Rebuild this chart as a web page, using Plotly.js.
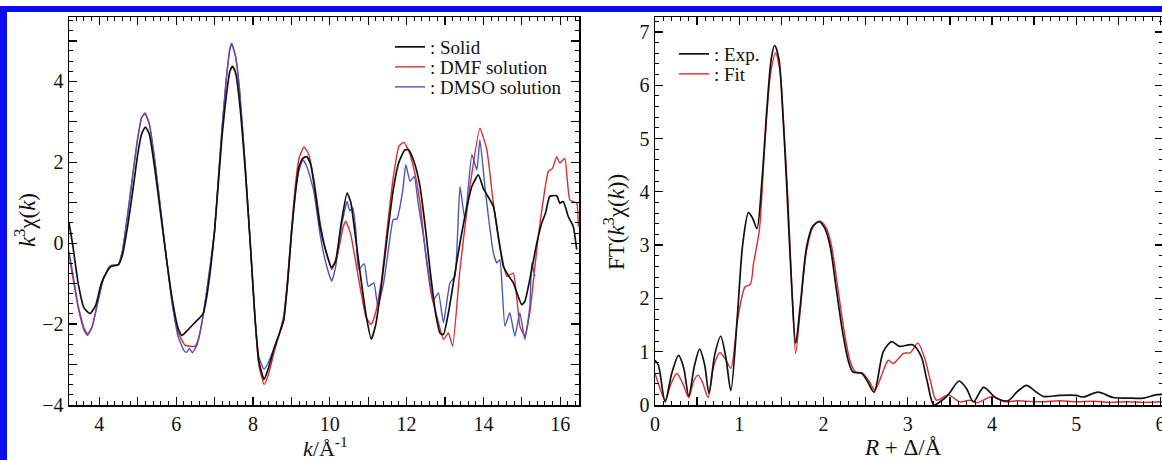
<!DOCTYPE html>
<html>
<head>
<meta charset="utf-8">
<script src="https://cdn.plot.ly/plotly-3.0.1.min.js"></script>
<style>
  html, body { margin:0; padding:0; background:#fff; overflow:hidden; }
  #wrap { position:relative; width:1162px; height:460px; overflow:hidden; }
  #chart { position:absolute; left:0; top:0; width:1172px; height:460px; }
  #frame { position:absolute; left:0; top:6px; width:1162px; height:460px;
           border-top:6px solid rgb(12,12,240); border-left:7px solid rgb(12,12,240);
           box-sizing:border-box; pointer-events:none; }
</style>
</head>
<body>
<div id="wrap"><div id="chart"></div><div id="frame"></div></div>
<script>
// ---------- Left panel: k^3 chi(k) ----------
const kSolid = [3.21,3.3,3.45,3.6,3.76,3.9,4.05,4.2,4.3,4.5,4.6,4.75,4.9,5.0,5.1,5.2,5.3,5.45,5.6,5.75,5.9,6.05,6.15,6.3,6.5,6.7,6.8,6.9,7.0,7.1,7.2,7.3,7.4,7.47,7.55,7.65,7.8,7.95,8.05,8.15,8.29,8.4,8.55,8.7,8.8,8.9,9.0,9.1,9.2,9.3,9.4,9.5,9.6,9.75,9.9,10.05,10.15,10.3,10.45,10.55,10.65,10.8,10.95,11.08,11.2,11.35,11.5,11.65,11.8,11.95,12.05,12.2,12.35,12.5,12.61,12.75,12.87,12.96,13.09,13.25,13.39,13.55,13.7,13.87,14.0,14.09,14.26,14.4,14.52,14.65,14.78,14.9,15.0,15.08,15.25,15.39,15.52,15.62,15.73,15.91,15.99,16.08,16.21,16.34,16.43];
const vSolid = [0.5,0.0,-1.0,-1.6,-1.74,-1.55,-1.0,-0.7,-0.58,-0.53,-0.3,0.5,1.5,2.2,2.7,2.87,2.7,1.8,0.7,-0.4,-1.4,-2.1,-2.28,-2.15,-1.95,-1.75,-1.3,-0.6,0.3,1.5,2.7,3.6,4.25,4.37,4.2,3.5,1.8,-0.3,-1.8,-2.9,-3.37,-3.1,-2.6,-2.2,-1.9,-1.0,0.2,1.2,1.9,2.1,2.14,1.95,1.4,0.4,-0.2,-0.6,-0.45,0.5,1.24,1.0,0.3,-0.8,-1.8,-2.37,-2.0,-1.0,0.2,1.3,2.0,2.3,2.31,2.0,1.4,0.3,-0.65,-1.7,-2.22,-2.26,-1.72,-0.8,0.0,0.8,1.4,1.69,1.35,1.2,0.91,0.1,-0.57,-0.8,-0.98,-1.3,-1.52,-1.44,-0.7,0.0,0.5,0.75,1.16,1.17,0.99,1.03,0.66,0.41,-0.16];

const kDMF = [3.21,3.3,3.45,3.6,3.69,3.8,3.95,4.1,4.28,4.49,4.6,4.75,4.9,5.0,5.1,5.19,5.3,5.45,5.6,5.75,5.9,6.05,6.23,6.49,6.6,6.75,6.9,7.0,7.1,7.2,7.3,7.4,7.45,7.55,7.65,7.8,7.95,8.05,8.15,8.29,8.4,8.55,8.7,8.8,8.9,9.0,9.1,9.2,9.33,9.45,9.6,9.75,9.9,10.05,10.2,10.35,10.42,10.55,10.7,10.85,10.95,11.08,11.2,11.35,11.5,11.65,11.8,11.93,12.05,12.2,12.35,12.5,12.65,12.79,12.96,13.09,13.2,13.39,13.65,13.91,14.09,14.26,14.43,14.61,14.78,14.95,15.08,15.21,15.43,15.69,15.8,15.91,15.99,16.12,16.25,16.43,16.47];
const vDMF = [-0.3,-0.8,-1.6,-2.15,-2.28,-2.1,-1.5,-0.9,-0.56,-0.53,-0.2,0.8,1.9,2.6,3.1,3.22,2.95,2.0,0.8,-0.4,-1.5,-2.2,-2.52,-2.55,-2.3,-1.5,-0.5,0.3,1.6,2.9,4.0,4.8,4.94,4.6,3.8,1.9,-0.3,-1.8,-3.0,-3.49,-3.25,-2.7,-2.2,-1.8,-0.9,0.3,1.4,2.1,2.38,2.2,1.5,0.5,-0.2,-0.65,-0.3,0.4,0.54,0.2,-0.6,-1.4,-1.85,-2.01,-1.7,-0.9,0.4,1.6,2.4,2.49,2.3,1.8,1.0,-0.3,-1.3,-1.81,-2.38,-2.22,-2.55,-0.65,1.4,2.84,2.31,0.99,-0.08,-0.82,-0.74,-2.05,-2.3,-1.72,0.17,1.77,1.85,2.14,1.98,2.1,1.07,0.99,0.41];

const kDMSO = [3.21,3.3,3.45,3.6,3.7,3.82,3.95,4.1,4.28,4.49,4.6,4.75,4.9,5.0,5.1,5.19,5.3,5.45,5.6,5.75,5.9,6.05,6.2,6.27,6.35,6.42,6.55,6.7,6.85,7.0,7.1,7.2,7.3,7.4,7.45,7.55,7.65,7.8,7.95,8.05,8.15,8.29,8.4,8.55,8.7,8.8,8.9,9.0,9.1,9.2,9.3,9.4,9.53,9.6,9.75,9.9,10.05,10.15,10.3,10.45,10.52,10.6,10.68,10.75,10.9,11.0,11.15,11.25,11.4,11.55,11.65,11.75,11.9,11.98,12.09,12.2,12.3,12.44,12.7,12.83,12.96,13.13,13.26,13.39,13.52,13.7,13.83,13.91,14.04,14.13,14.26,14.35,14.43,14.56,14.69,14.82,14.95,15.08,15.21,15.26,15.34];
const vDMSO = [-0.2,-0.7,-1.55,-2.1,-2.25,-2.05,-1.5,-0.9,-0.56,-0.53,-0.2,0.8,1.9,2.6,3.1,3.2,2.95,2.0,0.8,-0.4,-1.5,-2.3,-2.65,-2.7,-2.6,-2.71,-2.5,-1.8,-0.8,0.3,1.6,2.9,4.0,4.8,4.92,4.6,3.8,1.9,-0.3,-1.8,-2.8,-3.12,-2.95,-2.6,-2.2,-1.9,-1.0,0.2,1.2,1.8,2.06,1.9,1.49,1.2,0.2,-0.5,-0.94,-0.6,0.4,1.03,0.8,0.88,0.3,-0.65,-0.51,-1.07,-0.98,-1.56,-1.0,0.0,0.58,0.6,1.3,1.94,1.53,1.65,1.0,0.17,-1.4,-1.23,-1.97,-0.98,-0.82,1.4,0.58,2.19,1.81,2.56,1.4,0.66,-0.24,-0.49,-0.41,-2.05,-1.72,-2.3,-1.72,-2.38,-1.56,-0.49,-0.82];

// ---------- Right panel: FT(k^3 chi(k)) ----------
const rExp = [0,0.04,0.12,0.2,0.28,0.34,0.4,0.47,0.53,0.59,0.64,0.71,0.78,0.84,0.9,0.98,1.04,1.11,1.16,1.21,1.27,1.33,1.38,1.42,1.47,1.52,1.56,1.62,1.67,1.72,1.8,1.87,1.95,2.02,2.08,2.15,2.23,2.3,2.35,2.45,2.52,2.6,2.71,2.81,2.9,3.06,3.16,3.23,3.31,3.4,3.48,3.61,3.7,3.78,3.9,4.05,4.19,4.3,4.41,4.52,4.61,4.8,5.0,5.08,5.26,5.44,5.6,5.8,5.94,6.02];
const vExp = [0.84,0.75,0.06,0.6,0.93,0.7,0.17,0.75,1.05,0.75,0.22,0.95,1.29,0.9,0.27,1.72,3.0,3.61,3.5,3.31,4.22,5.6,6.5,6.75,6.5,5.4,4.22,2.3,1.16,1.8,2.97,3.35,3.44,3.3,2.97,2.2,1.34,0.8,0.62,0.6,0.45,0.24,1.0,1.19,1.1,1.13,0.91,0.45,0.0,0.08,0.19,0.45,0.3,0.06,0.33,0.13,0.08,0.25,0.37,0.25,0.16,0.18,0.18,0.15,0.24,0.14,0.13,0.13,0.19,0.2];

const rFit = [0,0.03,0.12,0.19,0.26,0.33,0.4,0.46,0.51,0.57,0.63,0.7,0.77,0.84,0.9,0.98,1.07,1.13,1.17,1.24,1.3,1.37,1.43,1.48,1.53,1.58,1.63,1.67,1.72,1.8,1.88,1.96,2.04,2.1,2.17,2.25,2.32,2.38,2.47,2.54,2.61,2.7,2.77,2.83,2.95,3.03,3.12,3.2,3.27,3.34,3.48,3.62,3.74,3.82,4.0,4.15,4.3,4.41,4.6,4.8,5.0,5.2,5.4,5.6,5.8,6.02];
const vFit = [0.59,0.45,0.09,0.4,0.59,0.4,0.14,0.45,0.56,0.4,0.14,0.75,0.98,0.85,0.69,1.59,2.22,2.26,2.66,3.3,4.8,6.2,6.6,6.3,5.2,3.8,2.0,0.97,1.7,2.9,3.35,3.45,3.3,2.95,2.2,1.34,0.8,0.62,0.59,0.45,0.28,0.6,0.84,0.78,0.97,0.98,1.16,0.88,0.45,0.09,0.19,0.06,0.09,0.04,0.16,0.06,0.08,0.07,0.06,0.08,0.06,0.07,0.05,0.06,0.05,0.06];

const W = 1172, H = 460;   // drawing is a little wider than the window; the right edge is cropped like the reference
const px = v => v / W;
const py = v => 1 - v / H;
const serif = '"Liberation Serif", "Times New Roman", serif';
const BLACK = '#111111', RED = '#e3292b', BLUE = '#4a55c4';
const legFont = {family:serif, size:19, color:'#111'};
function legendAt(xPix, yPix) {
  return {x:px(xPix), y:py(yPix), xanchor:'left', yanchor:'middle', bgcolor:'rgba(0,0,0,0)',
          font:legFont, itemwidth:30, tracegroupgap:0};
}

const dataTraces = [
  {x:kDMF, y:vDMF, name:': DMF solution', type:'scatter', mode:'lines', line:{color:RED, width:1.4, shape:'spline', smoothing:0.4}, xaxis:'x', yaxis:'y', legend:'legend2'},
  {x:kDMSO, y:vDMSO, name:': DMSO solution', type:'scatter', mode:'lines', line:{color:BLUE, width:1.4, shape:'spline', smoothing:0.4}, xaxis:'x', yaxis:'y', legend:'legend3'},
  {x:kSolid, y:vSolid, name:': Solid', type:'scatter', mode:'lines', line:{color:BLACK, width:1.7, shape:'spline', smoothing:0.5}, xaxis:'x', yaxis:'y', legend:'legend'},
  {x:rFit, y:vFit, name:': Fit', type:'scatter', mode:'lines', line:{color:RED, width:1.4, shape:'spline', smoothing:0.8}, xaxis:'x2', yaxis:'y2', legend:'legend5'},
  {x:rExp, y:vExp, name:': Exp.', type:'scatter', mode:'lines', line:{color:BLACK, width:1.7, shape:'spline', smoothing:0.8}, xaxis:'x2', yaxis:'y2', legend:'legend4'}
];

const axBase = {
  showline:true, linecolor:'#000', linewidth:1.5, mirror:'allticks',
  ticks:'inside', ticklen:8, tickwidth:1.3, tickcolor:'#000',
  showgrid:false, zeroline:false, tickmode:'linear', tick0:0,
  tickfont:{family:serif, size:20, color:'#111'}
};
function minor(d) { return {ticks:'inside', ticklen:4, tickwidth:1, tickcolor:'#000', showgrid:false, tick0:0, dtick:d}; }

const L_RANGE_X = [3.21, 16.49], L_RANGE_Y = [-4, 5.59];
const R_RANGE_X = [0, 6.03], R_RANGE_Y = [0, 7.28];

const titleFont = {family:serif, size:23, color:'#111'};
const layout = {
  width:W, height:H, margin:{l:0, r:0, t:0, b:0},
  paper_bgcolor:'#fff', plot_bgcolor:'#fff', showlegend:true,
  xaxis: Object.assign({}, axBase, {domain:[px(69), px(579)], range:L_RANGE_X, anchor:'y', dtick:1, ticklabelstep:2, minor:minor(0.2)}),
  yaxis: Object.assign({}, axBase, {domain:[py(405), py(17)], range:L_RANGE_Y, anchor:'x', dtick:1, ticklabelstep:2, minor:minor(0.25)}),
  xaxis2: Object.assign({}, axBase, {domain:[px(655), px(1163)], range:R_RANGE_X, anchor:'y2', dtick:0.5, ticklabelstep:2, minor:minor(0.1)}),
  yaxis2: Object.assign({}, axBase, {domain:[py(405), py(17)], range:R_RANGE_Y, anchor:'x2', dtick:1, minor:minor(0.2)}),
  legend: legendAt(390, 47), legend2: legendAt(390, 67), legend3: legendAt(390, 87),
  legend4: legendAt(674, 54), legend5: legendAt(674, 74),
  annotations: [
    {xref:'paper', yref:'paper', x:px(25), y:py(220), text:'<i>k</i><sup>3</sup>χ(<i>k</i>)', showarrow:false, textangle:-90,
     font:titleFont, xanchor:'center', yanchor:'middle'},
    {xref:'paper', yref:'paper', x:px(325), y:py(447), text:'<i>k</i>/Å<sup>-1</sup>', showarrow:false,
     font:Object.assign({}, titleFont, {size:22}), xanchor:'center', yanchor:'middle'},
    {xref:'paper', yref:'paper', x:px(614), y:py(222), text:'FT(<i>k</i><sup>3</sup>χ(<i>k</i>))', showarrow:false, textangle:-90,
     font:titleFont, xanchor:'center', yanchor:'middle'},
    {xref:'paper', yref:'paper', x:px(903), y:py(447), text:'<i>R</i> + Δ/Å', showarrow:false,
     font:titleFont, xanchor:'center', yanchor:'middle'}
  ]
};

Plotly.newPlot('chart', dataTraces, layout, {staticPlot:true, displayModeBar:false});
</script>
</body>
</html>
